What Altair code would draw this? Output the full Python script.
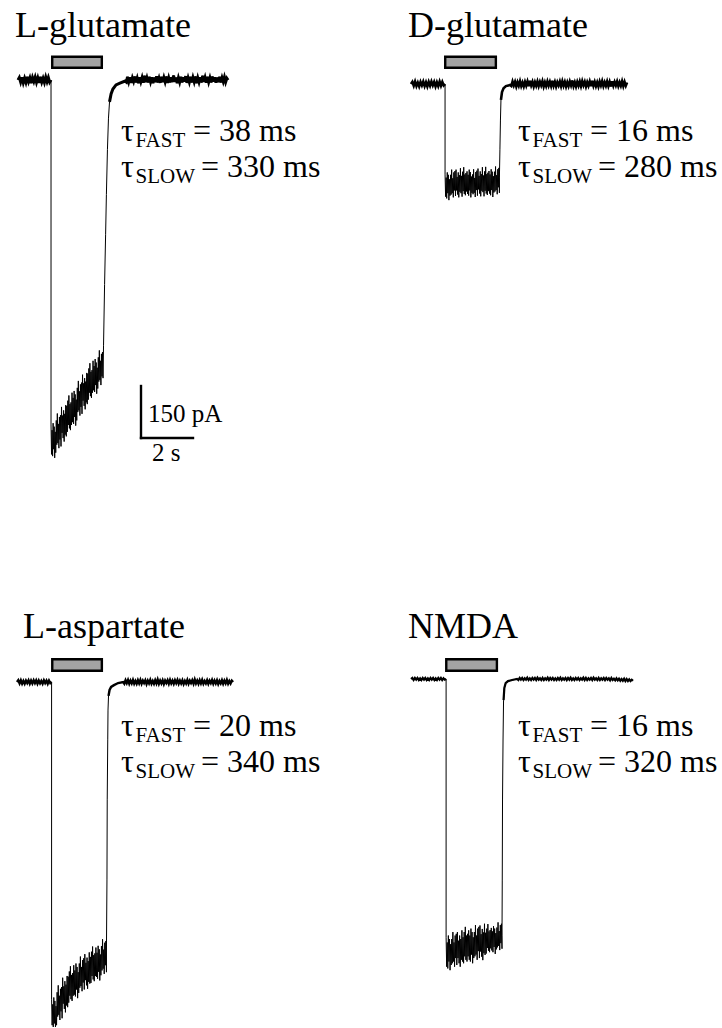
import numpy as np
import pandas as pd
import altair as alt

# ---------------- scale (from the scale bar: 2 s = 52 px, 150 pA = 52 px)
PX_PER_S = 26.0
PX_PER_PA = 52.0 / 150.0
W, H = 722, 1028

# ---------------- data
names = ["L-glutamate", "D-glutamate", "L-aspartate", "NMDA"]
tau_fast_ms = [38, 16, 20, 16]
tau_slow_ms = [330, 280, 340, 320]

# agonist application (s from trace start)
t_on = [1.27, 1.31, 1.33, 1.35]
t_off = [3.27, 3.40, 3.44, 3.50]
t_end = [8.08, 8.31, 8.31, 8.54]
bar_on = [1.27, 1.27, 1.31, 1.31]
bar_off = [3.27, 3.31, 3.31, 3.35]

# baseline before application (pA)
pre_lglu = [0, 7, -6, 8, -8, 5, -7, 9, -5, 6, -9, 7, -4, 8, -7, 6, -8, 9, -6, 5,
            -7, 8, -5, 7, -6, 0]
pre_dglu = [0, 6, -5, 7, -6, 4, -7, 6, -4, 7, -6, 5, -7, 6, -5, 7, -4, 6, -7, 5,
            -6, 7, -5, 6, -4, 0]
pre_lasp = [0, 5, -4, 5, -5, 3, -5, 4, -3, 5, -5, 4, -4, 5, -3, 5, -5, 4, -4, 3,
            -5, 5, -3, 4, -5, 4, -3, 0]
pre_nmda = [0, 3, -3, 3, -2, 3, -3, 2, -3, 3, -2, 3, -3, 2, -3, 3, -2, 3, -3, 2,
            -3, 3, -2, 3, -3, 2, -2, 0]

# current during application (pA)
seg_lglu = [-995, -1080, -1010, -1085, -990, -1065, -1000, -1090, -1015, -1075,
            -982, -1052, -962, -1047, -992, -1062, -972, -1037, -967, -1057,
            -943, -1018, -968, -1033, -953, -1043, -963, -1023, -938, -1028,
            -940, -1015, -925, -995, -910, -1005, -935, -1010, -930, -995,
            -902, -987, -917, -992, -897, -972, -907, -997, -922, -982,
            -888, -958, -868, -953, -898, -968, -878, -943, -873, -963,
            -850, -925, -875, -940, -860, -950, -870, -930, -845, -935,
            -847, -922, -832, -902, -817, -912, -842, -917, -837, -902,
            -810, -895, -825, -900, -805, -880, -815, -905, -830, -890,
            -800, -870, -780, -865, -810, -880, -790, -855, -785, -860]
seg_dglu = [-260, -325, -270, -330, -255, -315, -262, -335, -275, -322,
            -262, -319, -247, -315, -272, -327, -255, -307, -251, -323,
            -247, -307, -268, -319, -255, -327, -263, -311, -243, -315,
            -265, -325, -253, -309, -240, -317, -261, -321, -257, -310,
            -252, -317, -262, -322, -247, -307, -254, -327, -267, -314,
            -261, -318, -246, -314, -271, -326, -254, -306, -250, -322,
            -244, -304, -265, -316, -252, -324, -260, -308, -240, -312,
            -264, -324, -252, -308, -239, -316, -260, -320, -256, -309,
            -251, -316, -261, -321, -246, -306, -253, -326, -266, -313,
            -253, -310, -238, -306, -263, -318, -246, -298, -242, -314]
seg_lasp = [-915, -990, -930, -995, -910, -985, -920, -995, -935, -990,
            -895, -965, -875, -960, -905, -975, -885, -950, -880, -970,
            -853, -928, -878, -943, -863, -953, -873, -933, -848, -938,
            -850, -925, -835, -905, -820, -915, -845, -920, -840, -905,
            -817, -902, -832, -907, -812, -887, -822, -912, -837, -897,
            -812, -882, -792, -877, -822, -892, -802, -867, -797, -887,
            -785, -860, -810, -875, -795, -885, -805, -865, -780, -870,
            -793, -868, -778, -848, -763, -858, -788, -863, -783, -848,
            -766, -851, -781, -856, -761, -836, -771, -861, -786, -846,
            -762, -832, -742, -827, -772, -842, -752, -817, -747, -837]
seg_nmda = [-745, -830, -760, -835, -740, -815, -750, -840, -765, -825,
            -750, -820, -730, -815, -760, -830, -740, -805, -735, -825,
            -730, -805, -755, -820, -740, -830, -750, -810, -725, -815,
            -745, -820, -730, -800, -715, -810, -740, -815, -735, -800,
            -725, -810, -740, -815, -720, -795, -730, -820, -745, -805,
            -730, -800, -710, -795, -740, -810, -720, -785, -715, -805,
            -711, -786, -736, -801, -721, -811, -731, -791, -706, -796,
            -732, -792, -720, -776, -707, -784, -728, -788, -724, -777,
            -718, -783, -728, -788, -713, -773, -720, -793, -733, -780,
            -717, -774, -702, -770, -727, -782, -710, -762, -706, -778]

# recovery after washout
rec_t_lglu = [3.29, 3.33, 3.37, 3.40, 3.44, 3.48, 3.52, 3.58, 3.65, 3.77, 3.92, 4.12]
rec_i_lglu = [-765, -590, -445, -330, -200, -110, -63, -40, -26, -14, -9, -3]
rec_t_dglu = [3.40, 3.42, 3.44, 3.46, 3.50, 3.56, 3.65, 3.81]
rec_i_dglu = [-271, -190, -104, -46, -23, -12, -6, -3]
rec_t_lasp = [3.44, 3.46, 3.47, 3.49, 3.50, 3.52, 3.56, 3.62, 3.73, 3.89, 4.08]
rec_i_lasp = [-773, -571, -340, -167, -81, -40, -23, -14, -9, -3, 0]
rec_t_nmda = [3.50, 3.51, 3.52, 3.54, 3.56, 3.59, 3.64, 3.73, 3.89, 4.08]
rec_i_nmda = [-739, -580, -349, -176, -61, -26, -12, -6, -3, 0]

# baseline after recovery (pA)
post_lglu = [4, -6, 9, -5, 8, -8, 6, -4, 10, -7, 5, -9, 8, -5, 7, -8, 12, -6, 6, -7,
             9, -5, 8, -9, 7, -6, 11, -7, 5, -8, 9, -6, 7, -5, 10, -8, 6, -7, 8, -6,
             13, -5, 7, -9, 6, -6, 9, -7, 8, -5, 11, -8, 6, -6, 9, -7, 7, -5, 10, -9,
             6, -6, 8, -7, 12, -5, 7, -8, 9, -6, 6, -7, 10, -5, 8, -8, 7, -6, 9, -7,
             6, -5, 8, -6, 5, 0]
post_dglu = [5, -6, 7, -4, 6, -7, 5, -5, 8, -6, 4, -7, 6, -5, 7, -6, 9, -4, 6, -7,
             5, -5, 7, -6, 6, -4, 8, -7, 5, -6, 7, -5, 6, -6, 9, -5, 6, -7, 5, -4,
             7, -6, 8, -5, 6, -7, 5, -6, 7, -4, 10, -6, 5, -7, 6, -5, 7, -6, 8, -4,
             6, -7, 5, -5, 7, -6, 9, -5, 6, -6, 5, -7, 7, -4, 8, -6, 5, -5, 7, -6,
             6, -7, 8, -5, 6, -4, 7, -6, 5, -5, 8, -6, 6, -5, 4]
post_lasp = [4, -5, 5, -3, 6, -5, 4, -4, 6, -5, 3, -5, 5, -4, 6, -5, 4, -3, 5, -6,
             4, -4, 6, -5, 3, -5, 5, -4, 7, -5, 4, -4, 5, -6, 4, -3, 5, -5, 6, -4,
             4, -5, 5, -3, 6, -5, 4, -4, 5, -6, 3, -4, 6, -5, 4, -3, 5, -5, 7, -4,
             4, -5, 5, -4, 6, -5, 3, -4, 5, -5, 4, -3, 6, -5, 4, -4, 5, -6, 3, -4,
             5, -5, 4, -4, 6, -5, 3, -4, 4, 0]
post_nmda = [2, -3, 3, -2, 3, -3, 2, -2, 4, -3, 2, -3, 3, -2, 3, -3, 4, -2, 2, -3,
             3, -3, 2, -2, 4, -3, 3, -2, 3, -3, 2, -3, 3, -2, 4, -3, 2, -2, 3, -3,
             3, -2, 4, -3, 2, -3, 3, -2, 3, -3, 2, -2, 4, -3, 3, -3, 2, -2, 3, -3,
             4, -2, 2, -3, 3, -3, 2, -2, 3, -3, 3, -2, 2, -4, 3, -3, 1, -4, 2, -4,
             1, -5, 0, -5, 1, -6, 0, -6, -1, -6, -2, -5]

pre = [pre_lglu, pre_dglu, pre_lasp, pre_nmda]
seg = [seg_lglu, seg_dglu, seg_lasp, seg_nmda]
rec_t = [rec_t_lglu, rec_t_dglu, rec_t_lasp, rec_t_nmda]
rec_i = [rec_i_lglu, rec_i_dglu, rec_i_lasp, rec_i_nmda]
post = [post_lglu, post_dglu, post_lasp, post_nmda]

scalebar_pa = 150
scalebar_s = 2

# ---------------- layout (page pixels)
trace_origin_px = [(18, 80), (411, 84), (17, 682), (411, 679)]
bar_rows_px = [(55.5, 69), (55.5, 69), (658, 672), (658, 672)]
title_px = [(15, 37), (408, 37), (23, 638), (408, 638)]
tau_px = [(121, 141, 177), (518, 141, 177), (121, 736, 772), (518, 736, 772)]
scalebar_corner_px = (141, 438)
TITLE_FS, MAIN_FS, SUB_FS, SB_FS = 36, 32, 21, 25
thick_w = [3.0, 2.6, 2.4, 2.2]
FONT = "Liberation Serif"


def xs(px):
    return px / PX_PER_S


def ys(px):
    return -px / PX_PER_PA


# ---------------- build trace tables
rows = []
for p in range(4):
    x0, y0 = trace_origin_px[p]
    n = 0
    parts = []
    tp = np.linspace(0, t_on[p], len(pre[p]))
    parts += [(t, v, "pre") for t, v in zip(tp, pre[p])]
    ts = np.linspace(t_on[p], t_off[p], len(seg[p]))
    parts += [(t, v, "seg") for t, v in zip(ts, seg[p])]
    parts += [(t, v, "post" if v > -70 else "rec") for t, v in zip(rec_t[p], rec_i[p])]
    tq = np.linspace(rec_t[p][-1], t_end[p], len(post[p]))
    parts += [(t, v, "post") for t, v in zip(tq[1:], post[p][1:])]
    for t, v, part in parts:
        rows.append({"panel": names[p], "order": n, "t": t, "I": v, "part": part,
                     "X": xs(x0) + t, "Y": ys(y0) + v})
        n += 1
trace = pd.DataFrame(rows)

xscale = alt.Scale(domain=[0, W / PX_PER_S], nice=False, zero=False)
yscale = alt.Scale(domain=[-H / PX_PER_PA, 0], nice=False, zero=False)
X = lambda f: alt.X(f, type="quantitative", scale=xscale, axis=None)
Y = lambda f: alt.Y(f, type="quantitative", scale=yscale, axis=None)

layers = []
thin = alt.Chart(trace).mark_line(color="black", strokeWidth=1).encode(
    x=X("X"), y=Y("Y"), detail="panel:N", order="order:Q")
layers.append(thin)

for p in range(4):
    d = trace[(trace.panel == names[p]) & (trace.part.isin(["pre", "post"]))]
    thick = alt.Chart(d).mark_line(color="black", strokeWidth=thick_w[p],
                                   strokeJoin="miter", strokeCap="butt").encode(
        x=X("X"), y=Y("Y"), detail="part:N", order="order:Q")
    layers.append(thick)

# application bars
brows = []
for p in range(4):
    x0, _ = trace_origin_px[p]
    top, bot = bar_rows_px[p]
    brows.append({"x": xs(x0) + bar_on[p] + xs(1.2), "x2": xs(x0) + bar_off[p] - xs(1.2),
                  "y": ys(top + 1.2), "y2": ys(bot - 1.2)})
bars = alt.Chart(pd.DataFrame(brows)).mark_rect(
    fill="#a3a3a3", stroke="black", strokeWidth=2.4).encode(
    x=X("x"), x2="x2", y=Y("y"), y2="y2")
layers.append(bars)

# scale bar
cx, cy = scalebar_corner_px
sb = pd.DataFrame([{"x": xs(cx), "x2": xs(cx), "y": ys(cy), "y2": ys(cy) + scalebar_pa},
                   {"x": xs(cx), "x2": xs(cx) + scalebar_s, "y": ys(cy), "y2": ys(cy)}])
layers.append(alt.Chart(sb).mark_rule(color="black", strokeWidth=2.4, strokeCap="square").encode(
    x=X("x"), x2="x2", y=Y("y"), y2="y2"))

# text
trows = []
for p in range(4):
    tx, ty = title_px[p]
    trows.append({"x": xs(tx), "y": ys(ty), "text": names[p], "fs": TITLE_FS})
    ax, b1, b2 = tau_px[p]
    for (b, sub, val, dx) in [(b1, "FAST", tau_fast_ms[p], 72), (b2, "SLOW", tau_slow_ms[p], 80)]:
        trows.append({"x": xs(ax), "y": ys(b), "text": "τ", "fs": MAIN_FS})
        trows.append({"x": xs(ax + 14.5), "y": ys(b + 6), "text": sub, "fs": SUB_FS})
        trows.append({"x": xs(ax + dx), "y": ys(b), "text": f"= {val} ms", "fs": MAIN_FS})
trows.append({"x": xs(cx + 7), "y": ys(422), "text": f"{scalebar_pa} pA", "fs": SB_FS})
trows.append({"x": xs(cx + 11), "y": ys(461), "text": f"{scalebar_s} s", "fs": SB_FS})
texts = alt.Chart(pd.DataFrame(trows)).mark_text(
    font=FONT, align="left", baseline="alphabetic", color="black").encode(
    x=X("x"), y=Y("y"), text="text:N", size=alt.Size("fs:Q", scale=None, legend=None))
layers.append(texts)

chart = alt.layer(*layers).properties(
    width=W, height=H, padding=0, autosize=alt.AutoSizeParams(type="none"),
    background="white").configure_view(stroke=None)

chart.save("out.html", embed_options={"renderer": "svg", "actions": False})
